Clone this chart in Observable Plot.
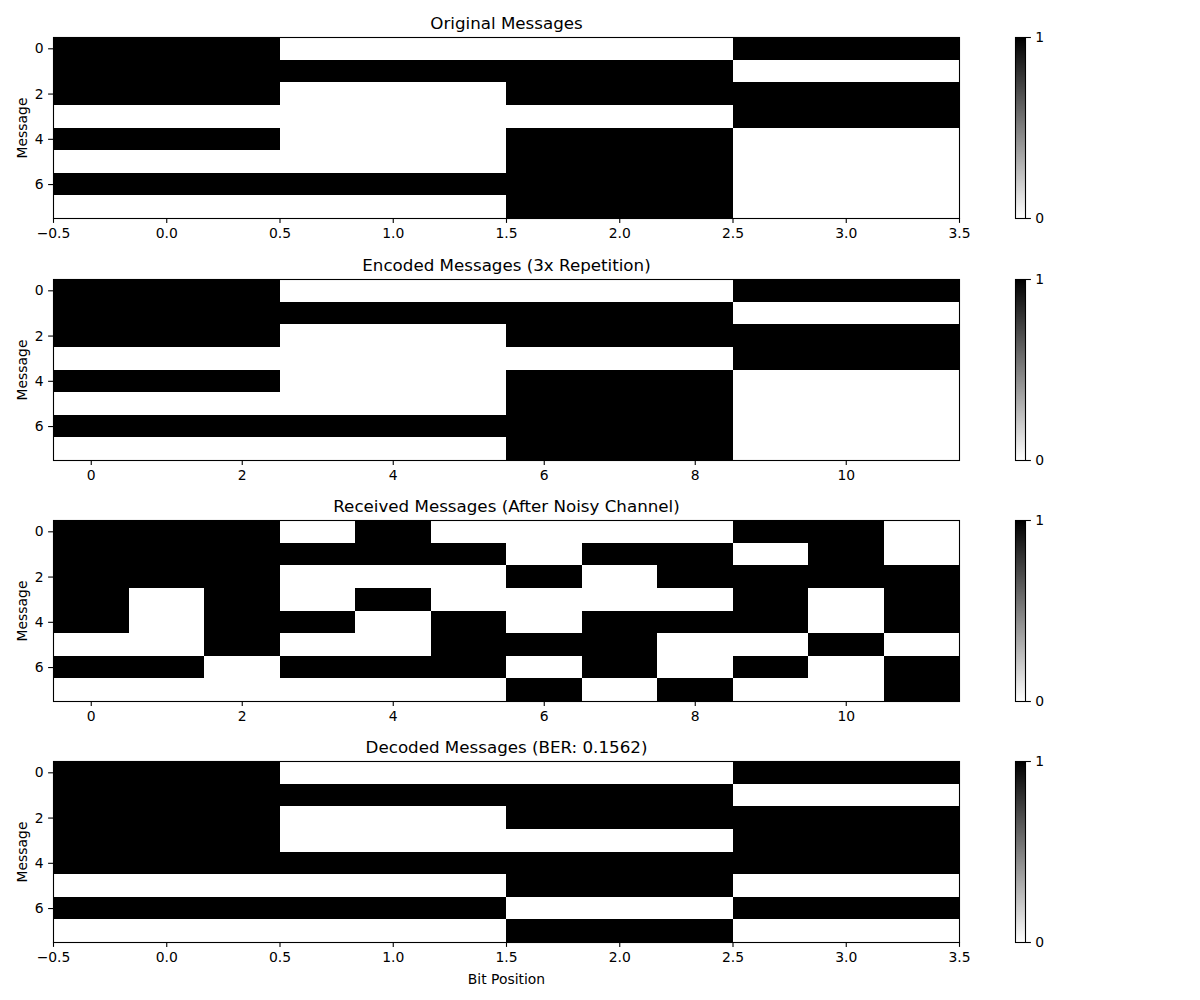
<!DOCTYPE html>
<html>
<head>
<meta charset="utf-8">
<script src="https://cdn.jsdelivr.net/npm/d3@7"></script>
<script src="https://cdn.jsdelivr.net/npm/@observablehq/plot@0.6"></script>
<style>
  html, body { margin: 0; padding: 0; background: white; }
  #chart { position: relative; width: 1200px; height: 1000px; background: white; font-family: "DejaVu Sans", sans-serif; }
  #chart svg { position: absolute; overflow: visible; }
</style>
</head>
<body>
<div id="chart"></div>
<script>
// ---- Data ----
const originalMessages = [
  [1, 0, 0, 1],
  [1, 1, 1, 0],
  [1, 0, 1, 1],
  [0, 0, 0, 1],
  [1, 0, 1, 0],
  [0, 0, 1, 0],
  [1, 1, 1, 0],
  [0, 0, 1, 0]
];
const encodedMessages = [
  [1, 1, 1, 0, 0, 0, 0, 0, 0, 1, 1, 1],
  [1, 1, 1, 1, 1, 1, 1, 1, 1, 0, 0, 0],
  [1, 1, 1, 0, 0, 0, 1, 1, 1, 1, 1, 1],
  [0, 0, 0, 0, 0, 0, 0, 0, 0, 1, 1, 1],
  [1, 1, 1, 0, 0, 0, 1, 1, 1, 0, 0, 0],
  [0, 0, 0, 0, 0, 0, 1, 1, 1, 0, 0, 0],
  [1, 1, 1, 1, 1, 1, 1, 1, 1, 0, 0, 0],
  [0, 0, 0, 0, 0, 0, 1, 1, 1, 0, 0, 0]
];
const receivedMessages = [
  [1, 1, 1, 0, 1, 0, 0, 0, 0, 1, 1, 0],
  [1, 1, 1, 1, 1, 1, 0, 1, 1, 0, 1, 0],
  [1, 1, 1, 0, 0, 0, 1, 0, 1, 1, 1, 1],
  [1, 0, 1, 0, 1, 0, 0, 0, 0, 1, 0, 1],
  [1, 0, 1, 1, 0, 1, 0, 1, 1, 1, 0, 1],
  [0, 0, 1, 0, 0, 1, 1, 1, 0, 0, 1, 0],
  [1, 1, 0, 1, 1, 1, 0, 1, 0, 1, 0, 1],
  [0, 0, 0, 0, 0, 0, 1, 0, 1, 0, 0, 1]
];
const decodedMessages = [
  [1, 0, 0, 1],
  [1, 1, 1, 0],
  [1, 0, 1, 1],
  [1, 0, 0, 1],
  [1, 1, 1, 1],
  [0, 0, 1, 0],
  [1, 1, 0, 1],
  [0, 0, 1, 0]
];
const panelTitles = [
  "Original Messages",
  "Encoded Messages (3x Repetition)",
  "Received Messages (After Noisy Channel)",
  "Decoded Messages (BER: 0.1562)"
];
const xTicksBits = [-0.5, 0, 0.5, 1, 1.5, 2, 2.5, 3, 3.5];
const xTicksEncoded = [0, 2, 4, 6, 8, 10];
const yTicks = [0, 2, 4, 6];
const colorbarTicks = [0, 1];
const yAxisLabel = "Message";
const xAxisLabel = "Bit Position";

// ---- Layout ----
const FONT = "'DejaVu Sans', sans-serif";
const TICK = 13.9;
const TITLE = 16.7;
const frameTops = [37, 279, 520, 761];
const frameH = 181;
const container = document.getElementById("chart");

function drawPanel(matrix, title, xTicks, xFmt, frameTop, withXLabel) {
  const cells = matrix.flatMap((row, r) => row.map((v, c) => ({r, c, v})));
  const n = matrix[0].length;
  const svgTop = frameTop - 37;
  const height = withXLabel ? 1000 - svgTop : 241;
  const marks = [
    Plot.rect(cells, {
      x1: d => d.c - 0.5, x2: d => d.c + 0.5,
      y1: d => d.r - 0.5, y2: d => d.r + 0.5,
      fill: "v", shapeRendering: "crispEdges"
    }),
    Plot.frame({stroke: "black", strokeWidth: 1.1}),
    Plot.axisX({ticks: xTicks, tickFormat: xFmt, tickSize: 4.9, tickPadding: 4.9, label: null, fontSize: TICK, strokeWidth: 1.1}),
    Plot.axisY({ticks: yTicks, tickFormat: d3.format("d"), tickSize: 4.9, tickPadding: 4.9, label: null, fontSize: TICK, strokeWidth: 1.1}),
    Plot.text([title], {text: d => d, frameAnchor: "top", dy: -8.3, lineAnchor: "bottom", textAnchor: "middle", fontSize: TITLE}),
    Plot.text([yAxisLabel], {text: d => d, frameAnchor: "left", dx: -30.5, rotate: -90, textAnchor: "middle", lineAnchor: "middle", fontSize: TICK})
  ];
  if (withXLabel) {
    marks.push(Plot.text([xAxisLabel], {text: d => d, frameAnchor: "bottom", dy: 41, lineAnchor: "bottom", textAnchor: "middle", fontSize: TICK}));
  }
  const svg = Plot.plot({
    width: 1200, height,
    marginLeft: 53, marginRight: 241, marginTop: 37, marginBottom: height - 37 - frameH,
    style: {fontFamily: FONT, fontSize: TICK + "px", color: "black", background: "transparent", overflow: "visible"},
    x: {domain: [-0.5, n - 0.5]},
    y: {domain: [-0.5, 7.5], reverse: true},
    color: {type: "linear", domain: [0, 1], range: ["white", "black"]},
    marks
  });
  svg.style.left = "0px";
  svg.style.top = svgTop + "px";
  container.appendChild(svg);

  // colorbar
  const cbMarks = [];
  if (Plot.raster) {
    cbMarks.push(Plot.raster({x1: 0, x2: 1, y1: 0, y2: 1, width: 1, height: 256, fill: (x, y) => y}));
  }
  cbMarks.push(Plot.frame({stroke: "black", strokeWidth: 1.1}));
  cbMarks.push(Plot.axisY({anchor: "right", ticks: colorbarTicks, tickFormat: d3.format("d"), tickSize: 4.9, tickPadding: 4.9, label: null, fontSize: TICK, strokeWidth: 1.1}));
  const cb = Plot.plot({
    width: 70, height: 241,
    marginLeft: 15, marginRight: 45, marginTop: 37, marginBottom: 241 - 37 - frameH,
    style: {fontFamily: FONT, fontSize: TICK + "px", color: "black", background: "transparent", overflow: "visible"},
    x: {domain: [0, 1], axis: null},
    y: {domain: [0, 1]},
    color: {type: "linear", domain: [0, 1], range: ["white", "black"]},
    marks: cbMarks
  });
  cb.style.left = "1000px";
  cb.style.top = svgTop + "px";
  container.appendChild(cb);
}

const fmtBits = d3.format(".1f");
const fmtInt = d3.format("d");
drawPanel(originalMessages, panelTitles[0], xTicksBits, fmtBits, frameTops[0], false);
drawPanel(encodedMessages, panelTitles[1], xTicksEncoded, fmtInt, frameTops[1], false);
drawPanel(receivedMessages, panelTitles[2], xTicksEncoded, fmtInt, frameTops[2], false);
drawPanel(decodedMessages, panelTitles[3], xTicksBits, fmtBits, frameTops[3], true);
</script>
</body>
</html>
